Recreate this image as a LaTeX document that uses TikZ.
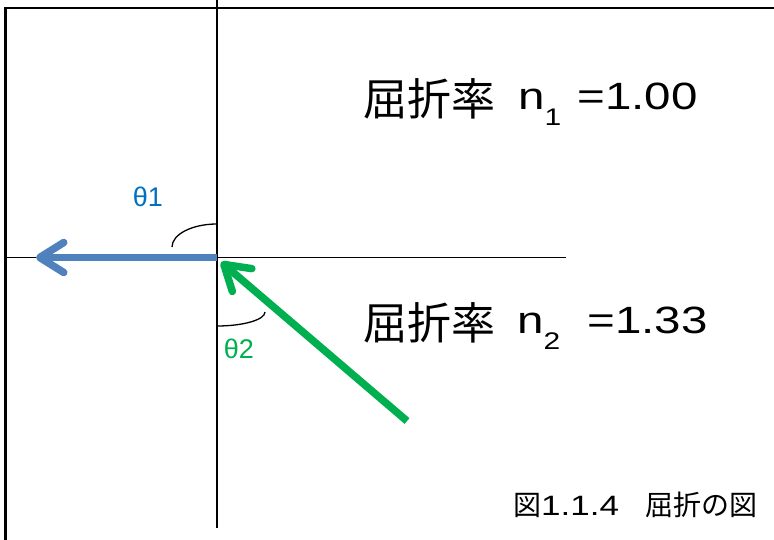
\documentclass[tikz,border=0pt]{standalone}
\usepackage{fontspec}
\setmainfont{Liberation Sans}
\newfontfamily\wide{Liberation Sans}[FakeStretch=1.25]
\newfontfamily\cjk{Noto Sans CJK JP}
\usetikzlibrary{arrows.meta}
\definecolor{rayblue}{HTML}{4F81BD}
\definecolor{raygreen}{HTML}{00B050}
\definecolor{thblue}{HTML}{0070C0}
\tikzset{
  frame/.style={line width=2.4pt, black},
  axis/.style={line width=1.6pt, black},
  anglearc/.style={line width=1.3pt, black},
  ray/.style={line width=7.5pt, line cap=butt, -{Straight Barb[length=24pt,width=30pt,round]}},
  lab/.style={inner sep=0pt, anchor=base west},
}
\newcommand{\bigtxt}{\wide\fontsize{38}{38}\selectfont}
\newcommand{\cjkbig}[1]{\raisebox{-6pt}{\cjk\fontsize{44}{44}\selectfont #1}}
\newcommand{\subtxt}[1]{\raisebox{-16pt}{\wide\fontsize{24}{24}\selectfont #1}}
\begin{document}
\begin{tikzpicture}[x=1pt,y=-1pt]
\useasboundingbox (0,0) rectangle (774,540);
\fill[white] (0,0) rectangle (774,540);
% frame
\coordinate (ftr) at (776,8);
\coordinate (ftl) at (5.5,8);
\coordinate (fbl) at (5.5,542);
\draw[frame] (ftr) -- (ftl) -- (fbl);
% normal and interface
\coordinate (nt) at (217,-2);
\coordinate (nb) at (217,528);
\coordinate (il) at (5.5,257.5);
\coordinate (ir) at (566,257.5);
\coordinate (o) at (217,257.5);
\draw[axis] (nt) -- (nb);
\draw[axis] (il) -- (ir);
% angle arcs
\coordinate (a1s) at (172,247);
\coordinate (a2s) at (217,326);
\draw[anglearc] (a1s) arc[start angle=180, end angle=90, x radius=45, y radius=-23];
\draw[anglearc] (a2s) arc[start angle=270, end angle=360, x radius=48, y radius=-14];
% rays
\coordinate (btip) at (36,257.5);
\coordinate (gstart) at (407,421);
\coordinate (gtip) at (221,262);
\draw[ray, rayblue] (o) -- (btip);
\draw[ray, raygreen] (gstart) -- (gtip);
% labels
\node[inner sep=0pt, text=thblue, font=\fontsize{27}{27}\selectfont] (th1) at (148,197) {θ1};
\node[inner sep=0pt, text=raygreen, font=\fontsize{27}{27}\selectfont] (th2) at (239,349) {θ2};
\node[lab] (n1) at (363,110) {\cjkbig{屈折率}\hspace{23pt}{\bigtxt n}\subtxt{1}\hspace{16pt}{\bigtxt =1.00}};
\node[lab] (n2) at (363,333) {\cjkbig{屈折率}\hspace{22pt}{\bigtxt n}\subtxt{2}\hspace{27pt}{\bigtxt =1.33}};
\node[lab] (cap) at (513,515) {{\cjk\fontsize{28}{28}\selectfont 図}{\wide\fontsize{28}{28}\selectfont 1.1.4}\hspace{26pt}{\cjk\fontsize{28}{28}\selectfont 屈折の図}};
\end{tikzpicture}
\end{document}
